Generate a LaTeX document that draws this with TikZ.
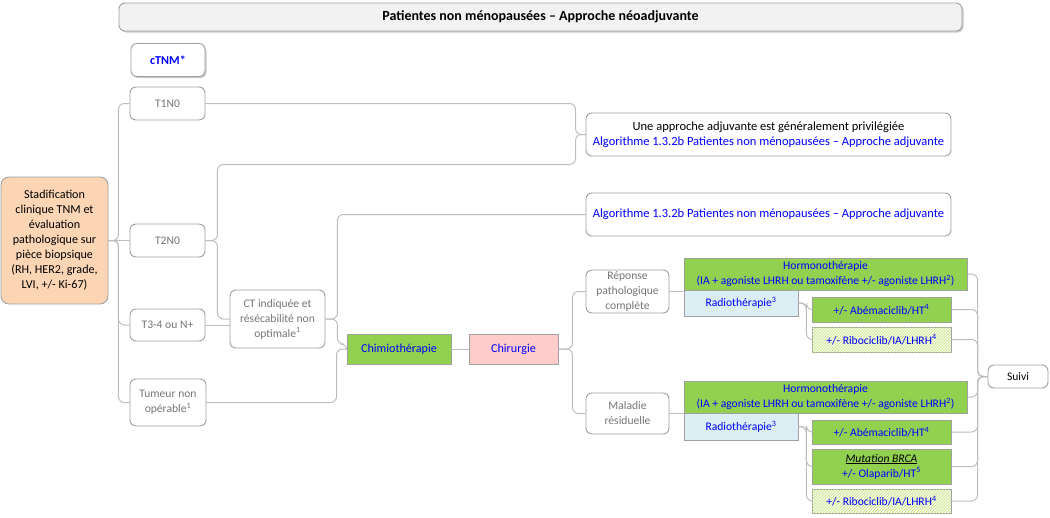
\documentclass[tikz,border=0pt]{standalone}
\usepackage{fontspec}
\setmainfont{Carlito}
\usetikzlibrary{shadows,patterns}
\definecolor{linec}{HTML}{BDBDBD}
\definecolor{borderc}{HTML}{A0A0A0}
\definecolor{graytxt}{HTML}{767676}
\definecolor{bluetxt}{HTML}{0000FF}
\definecolor{greenf}{HTML}{92D050}
\definecolor{pinkf}{HTML}{FFCCCC}
\definecolor{peach}{HTML}{FCD5B4}
\definecolor{lightblue}{HTML}{DAEEF3}
\definecolor{titlef}{HTML}{F2F2F2}
\definecolor{hatchbg}{HTML}{F5FAE3}
\definecolor{hatchln}{HTML}{C6E48A}
\tikzset{
  base/.style={font=\fontsize{11.6}{15}\selectfont, align=center, inner sep=0pt, line width=0.9pt},
  big/.style={font=\fontsize{12.5}{15}\selectfont},
  mid/.style={font=\fontsize{12.1}{15}\selectfont},
  rbox/.style={base, draw=borderc, rounded corners=6pt, fill=white, text=graytxt},
  gbox/.style={base, draw=borderc, fill=greenf, text=bluetxt},
  bbox/.style={base, draw=borderc, fill=lightblue, text=bluetxt},
  hbox/.style={base, draw=borderc, fill=hatchbg, text=bluetxt,
     postaction={pattern=north east lines, pattern color=hatchln}},
  shad/.style={drop shadow={shadow xshift=1.5pt, shadow yshift=-1.5pt, opacity=0.35, fill=black!60}},
  conn/.style={draw=linec, line width=1pt, rounded corners=6pt},
}
\begin{document}
\begin{tikzpicture}[x=1pt,y=-1pt]
\useasboundingbox (0,0) rectangle (1050,517);

% title
\node[base, draw=borderc, fill=titlef, rounded corners=6pt, shad, minimum width=843, minimum height=28, text=black,
  font=\fontsize{14}{16}\selectfont]
  (title) at (540.5,17) {\textbf{Patientes non ménopausées – Approche néoadjuvante}};

\node[rbox, shad, mid, minimum width=74, minimum height=33, text=bluetxt] (ctnm) at (168,60) {\textbf{cTNM*}};

\node[rbox, mid, fill=peach, text=black, rounded corners=8pt, minimum width=107, minimum height=127] (stad) at (54.5,240.5)
  {Stadification\\clinique TNM et\\évaluation\\pathologique sur\\pièce biopsique\\(RH, HER2, grade,\\LVI, +/- Ki-67)};

\node[rbox, minimum width=75, minimum height=33] (t1) at (167.5,103.5) {T1N0};
\node[rbox, minimum width=75, minimum height=33] (t2) at (167.5,240.5) {T2N0};
\node[rbox, minimum width=75, minimum height=32] (t3) at (167.5,325) {T3-4 ou N+};
\node[rbox, minimum width=76, minimum height=47] (tum) at (168,402.5) {Tumeur non\\opérable\textsuperscript{1}};

\node[rbox, minimum width=95, minimum height=58] (ct) at (277.5,319) {CT indiquée et\\résécabilité non\\optimale\textsuperscript{1}};

\node[rbox, big, text=black, minimum width=365, minimum height=43] (algo1) at (768.5,134.5)
  {Une approche adjuvante est généralement privilégiée\\\textcolor{bluetxt}{Algorithme 1.3.2b Patientes non ménopausées – Approche adjuvante}};
\node[rbox, big, text=bluetxt, minimum width=365, minimum height=43] (algo2) at (768.5,214.5)
  {Algorithme 1.3.2b Patientes non ménopausées – Approche adjuvante};

\node[gbox, mid, minimum width=104, minimum height=30] (chimio) at (399,349) {Chimiothérapie};
\node[base, mid, draw=borderc, fill=pinkf, text=bluetxt, minimum width=89, minimum height=30] (chir) at (513.5,349) {Chirurgie};

\node[rbox, minimum width=83, minimum height=43] (rep) at (627.5,291.5) {Réponse\\pathologique\\complète};
\node[rbox, minimum width=83, minimum height=41] (mal) at (627.5,413.5) {Maladie\\résiduelle};

\node[gbox, minimum width=283, minimum height=32] (horm1) at (825.5,274)
  {Hormonothérapie\\(IA + agoniste LHRH ou tamoxifène +/- agoniste LHRH\textsuperscript{2})};
\node[bbox, minimum width=114, minimum height=26] (radio1) at (741,303) {Radiothérapie\textsuperscript{3}};
\node[gbox, minimum width=139, minimum height=25] (abe1) at (881.5,309.5) {+/- Abémaciclib/HT\textsuperscript{4}};
\node[hbox, minimum width=139, minimum height=25] (ribo1) at (881.5,339.5) {+/- Ribociclib/IA/LHRH\textsuperscript{4}};

\node[gbox, minimum width=283, minimum height=32] (horm2) at (825.5,397)
  {Hormonothérapie\\(IA + agoniste LHRH ou tamoxifène +/- agoniste LHRH\textsuperscript{2})};
\node[bbox, minimum width=114, minimum height=27] (radio2) at (741,426.5) {Radiothérapie\textsuperscript{3}};
\node[gbox, minimum width=139, minimum height=24] (abe2) at (881.5,432) {+/- Abémaciclib/HT\textsuperscript{4}};
\node[gbox, minimum width=139, minimum height=35] (brca) at (881.5,466.5)
  {\textcolor{black}{\underline{\textit{Mutation BRCA}}}\\+/- Olaparib/HT\textsuperscript{5}};
\node[hbox, minimum width=139, minimum height=24] (ribo2) at (881.5,501) {+/- Ribociclib/IA/LHRH\textsuperscript{4}};

\node[rbox, text=black, minimum width=60, minimum height=23] (suivi) at (1018,376.5) {Suivi};

% connectors
\draw[conn] (stad.east) -- ++(10,0) |- (t1.west);
\draw[conn] (stad.east) -- ++(10,0) |- (t3.west);
\draw[conn] (stad.east) -- ++(10,0) |- (tum.west);
\draw[conn] (stad.east) -- (t2.west);

\draw[conn] (t1.east) -| ([xshift=-10pt]algo1.west) -- (algo1.west);
\draw[conn] (t2.east) -- ++(12,0) -- ++(0,-76) -| ([xshift=-10pt]algo1.west) -- (algo1.west);
\draw[conn] (t2.east) -- ++(12,0) |- (ct.west);
\draw[conn] (t3.east) -- (ct.west |- t3.east);

\draw[conn] (ct.east) -- ++(12,0) |- (algo2.west);
\draw[conn] (ct.east) -- ++(12,0) |- ([yshift=5pt]chimio.west) -- (chimio.west);
\draw[conn] (tum.east) -| ([xshift=-10pt]chimio.west) -- (chimio.west);

\draw[conn] (chimio.east) -- (chir.west);
\draw[conn] (chir.east) -- ++(14,0) |- (rep.west);
\draw[conn] (chir.east) -- ++(14,0) |- (mal.west);
\draw[conn] (rep.east) -- (horm1.west |- rep.east);
\draw[conn] (mal.east) -- (horm2.west |- mal.east);

\draw[conn] (radio1.east) -- ++(8,0) |- (abe1.west);
\draw[conn] (radio1.east) -- ++(8,0) |- (ribo1.west);
\draw[conn] (radio2.east) -- ++(8,0) |- (abe2.west);
\draw[conn] (radio2.east) -- ++(8,0) |- (brca.west);
\draw[conn] (radio2.east) -- ++(8,0) |- (ribo2.west);

\foreach \n in {horm1,abe1,ribo1,horm2,abe2,brca,ribo2}
  \draw[conn] (\n.east) -| ([xshift=-10pt]suivi.west) -- (suivi.west);
\end{tikzpicture}
\end{document}
